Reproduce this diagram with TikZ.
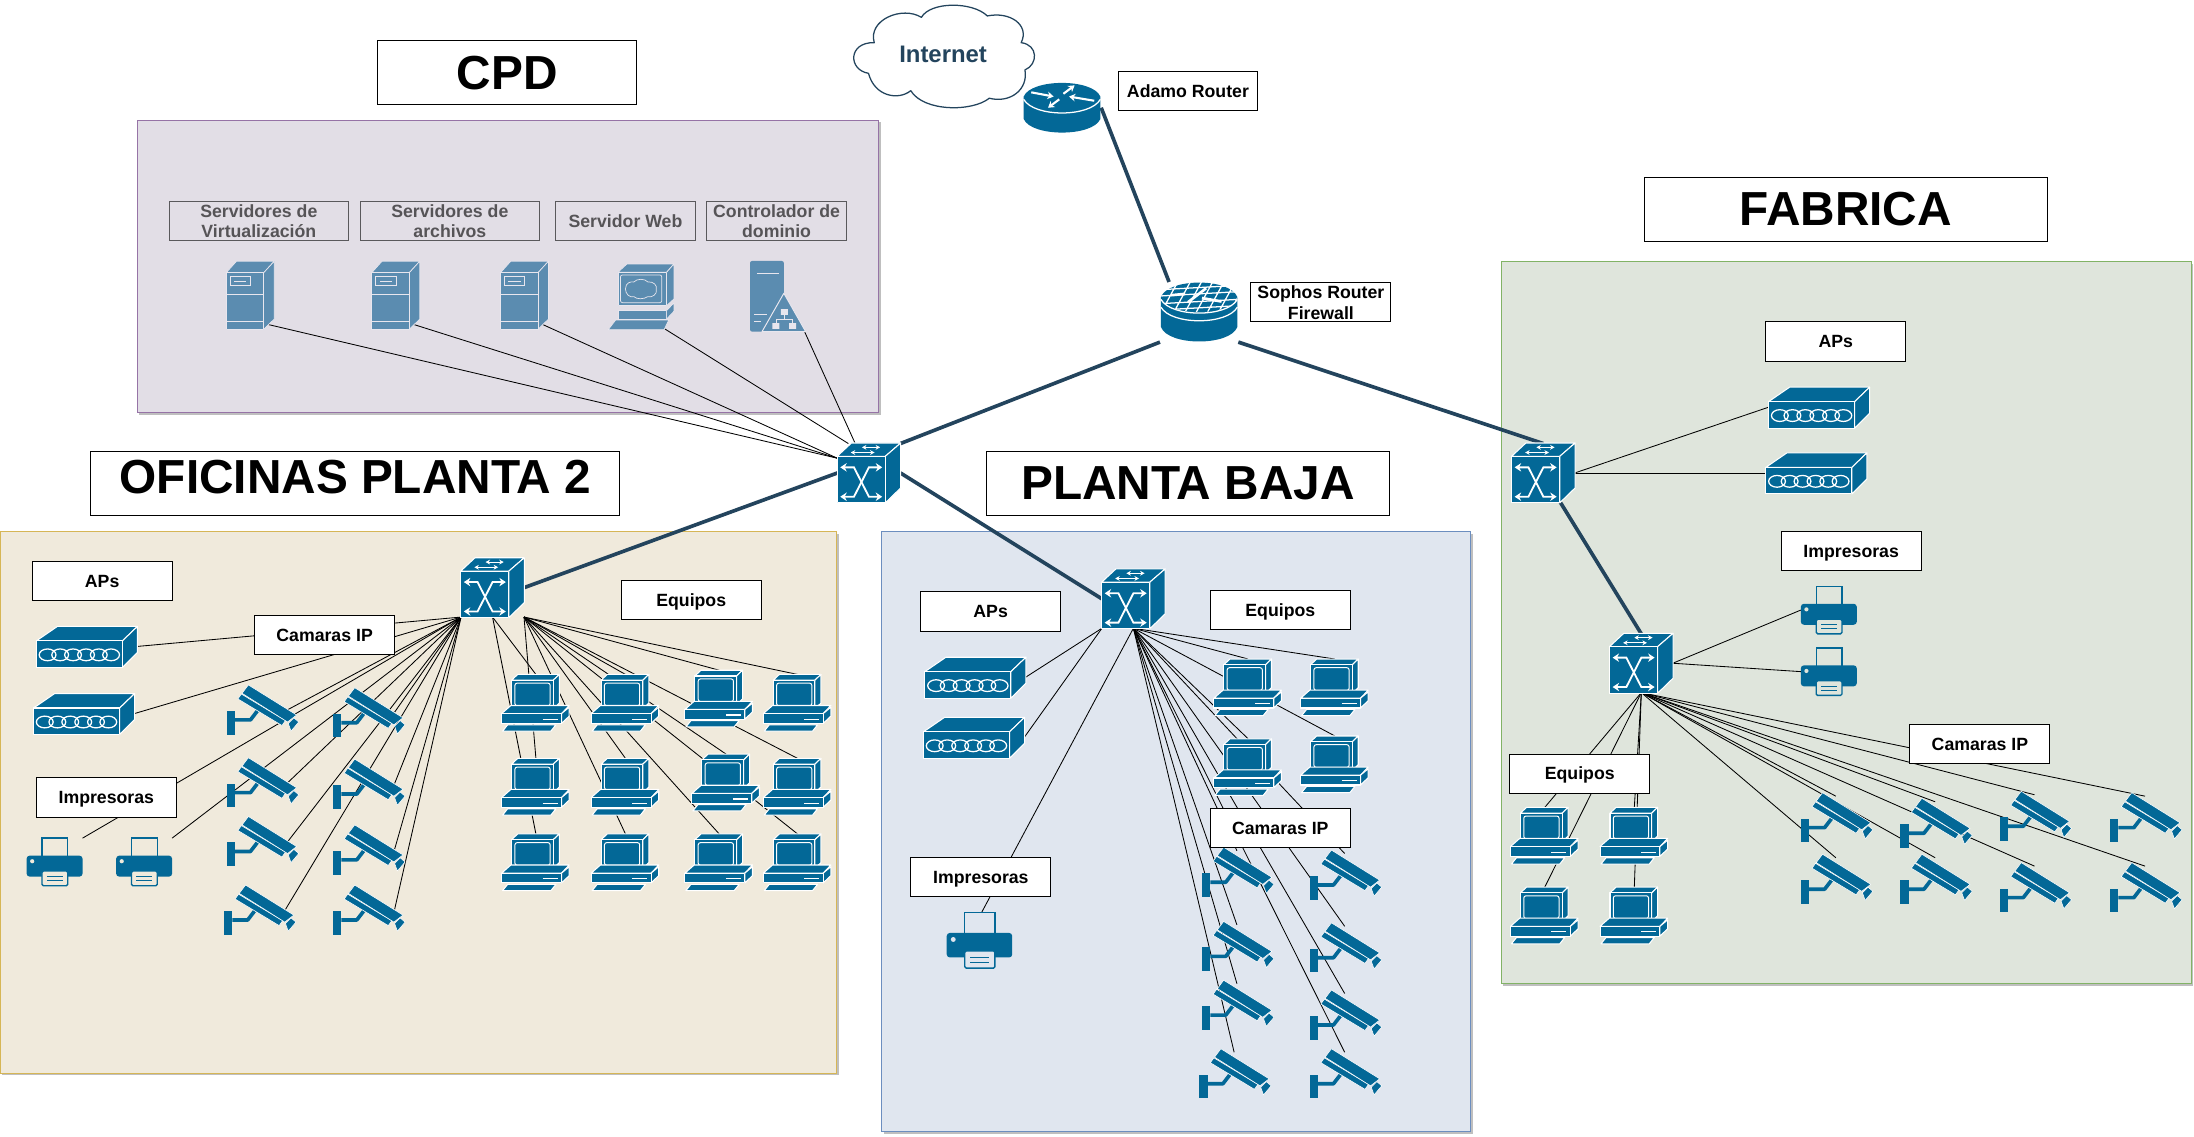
\documentclass[tikz,border=0pt]{standalone}
\usepackage{fontspec}
\setmainfont{Liberation Sans}
\usetikzlibrary{arrows.meta}
\definecolor{iconblue}{HTML}{036897}
\definecolor{iconfade}{HTML}{5B8CB0}
\definecolor{fadeline}{HTML}{E8E6EE}
\definecolor{trunk}{HTML}{23445D}
\definecolor{ofbg}{HTML}{F0EADC}
\definecolor{bajabg}{HTML}{E0E6EF}
\definecolor{fabbg}{HTML}{DFE5DC}
\definecolor{cpdbg}{HTML}{E2DEE6}
\definecolor{ofline}{HTML}{D6B656}
\definecolor{bajaline}{HTML}{6C8EBF}
\definecolor{fabline}{HTML}{82B366}
\definecolor{cpdline}{HTML}{9673A6}
\def\uu{0.035cm}
\def\pbg{ofbg}
\tikzset{
  iconf/.style={fill=iconblue,draw=white,line width=0.75pt,line join=round},
  camf/.style={fill=iconblue,draw=white,line width=0.4pt,line join=round},
  fadef/.style={fill=iconfade,draw=fadeline,line width=0.5pt,line join=round},
  wa/.style={draw=white,line width=0.8pt,-{Stealth[length=3.2pt,width=3.4pt]}},
  wb/.style={draw=white,line width=1.3pt,line join=miter,{Stealth[length=4.6pt,width=6pt]}-{Stealth[length=4.6pt,width=6pt]}},
  wr/.style={draw=white,line width=1.5pt,-{Stealth[length=4.4pt,width=5.4pt]}},
  link/.style={draw=black,line width=0.6pt},
  trunkline/.style={draw=trunk,line width=2.6pt},
  spotcam/.style={inner sep=0pt,outer sep=0pt,minimum width=38*\uu,minimum height=30*\uu},
  spotpc/.style={inner sep=0pt,outer sep=0pt,minimum width=48*\uu,minimum height=42*\uu},
  spotap/.style={inner sep=0pt,outer sep=0pt,minimum width=72*\uu,minimum height=30*\uu},
  spotsw/.style={inner sep=0pt,outer sep=0pt,minimum width=45*\uu,minimum height=42*\uu},
  spotpr/.style={inner sep=0pt,outer sep=0pt,minimum width=40*\uu,minimum height=34*\uu},
  spotsrv/.style={inner sep=0pt,outer sep=0pt,minimum width=26*\uu,minimum height=42*\uu},
  spotweb/.style={inner sep=0pt,outer sep=0pt,minimum width=32*\uu,minimum height=46*\uu},
  spotctl/.style={inner sep=0pt,outer sep=0pt,minimum width=40*\uu,minimum height=50*\uu},
  spotrt/.style={inner sep=0pt,outer sep=0pt,minimum width=56*\uu,minimum height=43*\uu},
  tagbase/.style={draw=black,fill=white,line width=0.7pt,inner sep=0pt,align=center,
    minimum width=100*\uu,minimum height=28*\uu,
    font=\bfseries\fontsize{12.6}{15}\selectfont},
  tag/.style={tagbase,execute at begin node={\rule[-0.18em]{0pt}{1.08em}}},
  fadetag/.style={draw=black!60!cpdbg,line width=0.6pt,inner sep=0pt,align=center,text=black!62!cpdbg,
    minimum height=28*\uu,font=\bfseries\fontsize{12.6}{14.5}\selectfont},
  title/.style={draw=black,fill=white,line width=0.7pt,inner sep=0pt,
    minimum height=45.5*\uu,font=\bfseries\fontsize{34}{38}\selectfont},
  region/.style={inner sep=0pt,line width=0.7pt},
  shade box/.style={fill=black!25,inner sep=0pt},
  % ---------------- icons
  icam/.pic={
    \path[fill=iconblue,line join=round] (-25,1) rectangle (-19,18);
    \draw[iconblue,line width=2.6pt,line join=round] (-19,7.5) -- (-8,7.5) -- (-3,1);
    \path[camf] (-17,-7.5) -- (-14.5,-11) -- (17,8) -- (14.5,11.5) -- cycle;
    \path[camf] (-14,-11.5) -- (-9.5,-17.5) -- (25,4) -- (18.5,9) -- cycle;
    \path[camf] (19,10) -- (23,6) -- (26.5,9) -- (21,15.5) -- cycle;
  },
  ipc/.pic={
    \path[iconf] (-17.4,-16.9) -- (-13,-21) -- (16.7,-21) -- (12.4,-16.9) -- cycle;
    \path[iconf] (12.4,-16.9) -- (16.7,-21) -- (16.7,-0.5) -- (12.4,3.6) -- cycle;
    \path[iconf] (-17.4,-16.9) rectangle (12.4,3.6);
    \draw[white,line width=0.7pt,rounded corners=1.6pt] (-15,-14.8) rectangle (10.2,1.4);
    \path[iconf] (-24.5,7) -- (-17.9,1.2) -- (23.8,1.2) -- (18.3,7) -- cycle;
    \path[iconf] (18.3,7) -- (23.8,2.4) -- (23.8,8.8) -- (18.3,14) -- cycle;
    \path[iconf] (-24.5,7) rectangle (18.3,14);
    \draw[white,line width=0.8pt] (4.8,11) -- (15.5,11);
    \path[iconf] (-23.8,19.5) -- (-20.2,15) -- (14.3,15) -- (10.7,19.5) -- cycle;
  },
  iap/.pic={
    \path[iconf] (-36,-4) -- (-21,-14.3) -- (36.2,-14.3) -- (25.5,-4) -- cycle;
    \path[iconf] (25.5,-4) -- (36.2,-14.3) -- (36.2,4.3) -- (25.5,15) -- cycle;
    \path[iconf] (-36,-4) rectangle (25.5,15);
    \foreach \cx in {-28,-19,-9.8,-0.5,8.6,17.4}
      \draw[white,line width=0.9pt] (\cx,6) ellipse (6 and 4.2);
  },
  iprn/.pic={
    \path[draw=iconblue,line width=1pt,fill=\pbg] (-9,-17) rectangle (9.4,-3);
    \path[fill=iconblue,rounded corners=2.2pt] (-20,-4.5) rectangle (20,10.5);
    \fill[\pbg] (-16,-0.5) circle (1.5);
    \path[draw=iconblue,line width=1pt,fill=\pbg,rounded corners=1pt] (-9,6.5) rectangle (9.4,17);
    \draw[iconblue,line width=0.7pt] (-5.5,10.3) -- (5.8,10.3) (-5.5,13.3) -- (5.8,13.3);
  },
  isw/.pic={
    \path[iconf] (-22.7,-11.9) -- (-12.5,-21.4) -- (22.7,-21.4) -- (11.7,-11.9) -- cycle;
    \path[iconf] (11.7,-11.9) -- (22.7,-21.4) -- (22.7,10.7) -- (11.7,21.4) -- cycle;
    \path[iconf] (-22.7,-11.9) rectangle (11.7,21.4);
    \draw[wa] (-1,-18.3) -- (8,-18.3);
    \draw[wa] (3,-18.3) -- (-5,-18.3);
    \draw[wa] (-5,-14.6) -- (4,-14.6);
    \draw[wa] (-3,-14.6) -- (-13,-14.6);
    \draw[wb] (-20.5,-4) -- (-10.7,-4) -- (0,17) -- (9.5,17);
    \draw[wb] (9.5,-4) -- (0,-4) -- (-10.7,17) -- (-20.5,17);
  },
  irt/.pic={
    \path[fill=iconblue] (-27.4,-8) -- (-27.4,8) .. controls (-22,21) and (22,21) .. (27.4,8) -- (27.4,-8)
       .. controls (22,-21) and (-22,-21) .. (-27.4,-8) -- cycle;
    \draw[white,line width=0.9pt] (-27.4,-6) .. controls (-20,7) and (20,7) .. (27.4,-6);
    \draw[wr] (-22,-11) -- (-6,-8);
    \draw[wr] (23,-5) -- (5,-8);
    \draw[wr] (1,-10) -- (9,-16);
    \draw[wr] (-2,-6) -- (-10,0);
  },
  ifw/.pic={
    \path[fill=iconblue] (-27.3,-10.7) -- (-27.3,10.7) .. controls (-22,24.5) and (22,24.5) .. (27.3,10.7) -- (27.3,-10.7)
       .. controls (22,-24.5) and (-22,-24.5) .. (-27.3,-10.7) -- cycle;
    \begin{scope}
      \clip (0,-10.7) ellipse (27.3 and 10.7);
      \draw[white,line width=0.9pt]
        (-27,-11.5) -- (27,-14.5) (-27,-6) -- (27,-9) (-27,-16) -- (27,-19) (-27,-1.5) -- (27,-4.5)
        (-14,-24) -- (-27,0) (-5,-24) -- (-18,0) (3,-24) -- (-10,0) (11,-24) -- (-2,0)
        (19,-24) -- (6,0) (27,-24) -- (14,0) (35,-24) -- (22,0);
      \draw[white,line width=1.9pt] (-8,-7) -- (5,-17) (2,-10) -- (16,-7.5) (-20,-12) -- (-10,-13);
    \end{scope}
    \draw[white,line width=0.9pt] (-27.3,-9) .. controls (-20,4) and (20,4) .. (27.3,-9);
    \draw[white,line width=0.9pt] (-27.3,-3.5) .. controls (-20,9.5) and (20,9.5) .. (27.3,-3.5);
  },
  isrv/.pic={
    \path[fadef] (-17.4,-16) -- (-10,-24.3) -- (17,-24.3) -- (9.4,-16) -- cycle;
    \path[fadef] (9.4,-16) -- (17,-24.3) -- (17,17) -- (9.4,24.5) -- cycle;
    \path[fadef] (-17.4,-16) rectangle (9.4,24.5);
    \draw[fadeline,line width=0.6pt] (-17.4,-0.7) -- (9.4,-0.7) (-17.4,18.6) -- (9.4,18.6);
    \draw[fadeline,line width=0.6pt] (-14.6,-13.1) rectangle (0,-6.7);
    \draw[fadeline,line width=0.6pt] (-11.6,-9.9) -- (-3,-9.9);
  },
  iweb/.pic={
    \path[fadef] (-17.4,-17.4) -- (-11,-23.3) -- (22.6,-23.3) -- (17.4,-17.4) -- cycle;
    \path[fadef] (17.4,-17.4) -- (22.6,-23.3) -- (22.6,1.7) -- (17.4,6.4) -- cycle;
    \path[fadef] (-17.4,-17.4) rectangle (17.4,6.4);
    \draw[fadeline,line width=0.5pt,rounded corners=1.5pt] (-15.6,-15.5) rectangle (14,4.3);
    \draw[fadeline,line width=0.5pt] (-12,-5.5) .. controls (-12,-10) and (-8,-11) .. (-6,-10.5)
      .. controls (-4,-13) and (2,-13) .. (4,-10.5) .. controls (8,-11) and (11,-8) .. (10,-5)
      .. controls (11,-2) and (7,1) .. (4,0) .. controls (1,2) and (-4,2) .. (-6,0)
      .. controls (-9,1) and (-12,-2) .. (-12,-5.5) -- cycle;
    \path[fadef] (-17.4,10) rectangle (17.4,16);
    \path[fadef] (17.4,10) -- (22.6,4.5) -- (22.6,10.5) -- (17.4,16) -- cycle;
    \path[fadef] (-24.3,23.6) -- (-19,16.7) -- (19,16.7) -- (15.6,23.6) -- cycle;
  },
  ictl/.pic={
    \path[fill=iconfade,rounded corners=1.5pt] (-19,-25.5) rectangle (5.2,25);
    \draw[fadeline,line width=0.8pt] (-14,-16.7) -- (1.7,-16.7);
    \draw[fadeline,line width=0.7pt] (-16,13) -- (-7,13) (-16,18) -- (-11,18);
    \path[fill=iconfade,draw=fadeline,line width=0.7pt,line join=round] (5.2,-2.4) -- (20.8,25) -- (-10.4,25) -- cycle;
    \fill[fadeline] (3,9) rectangle (8,13) (-3,19) rectangle (2,23) (9,19) rectangle (14,23);
    \draw[fadeline,line width=0.5pt] (5.5,13) -- (5.5,16) (-0.5,19) -- (-0.5,16) -- (11.5,16) -- (11.5,19);
  },
}
\begin{document}
\begin{tikzpicture}[x=\uu,y=-\uu]
\useasboundingbox (0,0) rectangle (1568,811.9);
\fill[white] (0,0) rectangle (1568,811.9);

% ---------- zones
\node[shade box,minimum width=530*\uu,minimum height=209*\uu] at (364.5,192) {};
\node[shade box,minimum width=493*\uu,minimum height=516*\uu] at (1321,446.5) {};
\node[shade box,minimum width=598*\uu,minimum height=387*\uu] at (300.5,575) {};
\node[shade box,minimum width=421*\uu,minimum height=429*\uu] at (842,596) {};
\node[region,draw=cpdline,fill=cpdbg,minimum width=530*\uu,minimum height=209*\uu] (zcpd) at (363,190.5) {};
\node[region,draw=fabline,fill=fabbg,minimum width=493*\uu,minimum height=516*\uu] (zfab) at (1319.5,445) {};
\node[region,draw=ofline,fill=ofbg,minimum width=598*\uu,minimum height=387*\uu] (zof) at (299,573.5) {};
\node[region,draw=bajaline,fill=bajabg,minimum width=421*\uu,minimum height=429*\uu] (zbaja) at (840.5,594.5) {};

% ---------- anchors of the devices
\node[spotrt] (r0) at (759,77) {};
\node[spotrt] (fw) at (857,223) {};
\foreach \n/\x/\y in {sw0/621/338,sw1/352/420,sw2/810/428,sw3/1103/338,sw4/1173/474}
  \node[spotsw] (\n) at (\x,\y) {};
\foreach \n/\x/\y in {srv1/179/211,srv2/283/211,srv3/375/211}
  \node[spotsrv] (\n) at (\x,\y) {};
\node[spotweb] (web) at (459,212) {};
\node[spotctl] (ctrl) at (555,212) {};
\foreach \n/\x/\y in {ap1/62/462,ap2/60/510,bap1/697/484,bap2/696/527,fap1/1300/291,fap2/1298/338}
  \node[spotap] (\n) at (\x,\y) {};
\foreach \n/\x/\y in {pr1/39/616,pr2/103/616,fpr1/1307/436,fpr2/1307/480}
  \node[spotpr] (\n) at (\x,\y) {};
\node[spotpr] (bpr) at (700,672) {};
\foreach \n/\x/\y in {c1/187/507,c2/263/509,c3/187/559,c4/263/560,c5/187/601,c6/263/607,c7/185/650,c8/263/650,
  bc1/884/623,bc2/961/625,bc3/884/676,bc4/961/677,bc5/884/718,bc6/961/725,bc7/882/767,bc8/961/767,
  fc1/1312/584,fc2/1383/588,fc3/1454/583,fc4/1533/584,fc5/1312/628,fc6/1383/628,fc7/1454/634,fc8/1533/634}
  \node[spotcam] (\n) at (\x,\y) {};
\foreach \n/\x/\y in {p1/383/503,p2/447/503,p3/514/500,p4/570/503,p5/383/563,p6/447/563,p7/519/560,p8/570/563,
  p9/383/617,p10/447/617,p11/514/617,p12/570/617,
  bp1/892/492,bp2/954/492,bp3/892/549,bp4/954/547,
  fp1/1104/598,fp2/1168/598,fp3/1104/655,fp4/1168/655}
  \node[spotpc] (\n) at (\x,\y) {};

% ---------- connectors
\foreach \n in {srv1,srv2,srv3} \draw[link] (\n.south east) -- (sw0.155);
\draw[link] (web.south east) -- (sw0.125);
\draw[link] (ctrl.south east) -- (sw0.115);
\draw[link] (ap1.east) -- (sw1.south west);
\draw[link] (ap2.east) -- (sw1.south west);
\draw[link] (pr1.north east) -- (sw1.south west);
\draw[link] (pr2.north east) -- (sw1.south west);
\foreach \n in {c1,c2,c3,c4,c5,c6,c7,c8} \draw[link] (\n.east) -- (sw1.south west);
\foreach \n in {p1,p9} \draw[link] (\n.north) -- (sw1.south);
\foreach \n in {p5,p2,p6,p10,p3,p4,p7,p8,p11,p12} \draw[link] (\n.north) -- (sw1.south east);
\draw[link] (bap1.east) -- (sw2.south west);
\draw[link] (bap2.east) -- (sw2.south west);
\draw[link] (bpr.north) -- (sw2.south);
\foreach \n in {bp1,bp2,bp3,bp4,bc1,bc2,bc3,bc4,bc5,bc6,bc7,bc8} \draw[link] (\n.north) -- (sw2.south);
\draw[link] (sw3.east) -- (fap1.west);
\draw[link] (sw3.east) -- (fap2.west);
\draw[link] (sw4.east) -- (fpr1.west);
\draw[link] (sw4.east) -- (fpr2.west);
\foreach \n in {fp1,fp2,fp3,fp4,fc1,fc2,fc3,fc4,fc5,fc6,fc7,fc8} \draw[link] (\n.north) -- (sw4.south);
\draw[trunkline] (r0.east) -- (fw.135);
\draw[trunkline] (fw.south west) -- (sw0.north east);
\draw[trunkline] (fw.south east) -- (sw3.north);
\draw[trunkline] (sw0.west) -- (sw1.east);
\draw[trunkline] (sw0.east) -- (sw2.west);
\draw[trunkline] (sw3.-60) -- (sw4.north);

% ---------- cloud
\path[draw=trunk,fill=white,line width=0.9pt,line join=round]
  (624.8,30.5) .. controls (620,14) and (645,4) .. (658.5,12.4)
  .. controls (665,1) and (695,1) .. (705.6,11.4)
  .. controls (722,8) and (736,18) .. (729.8,30.5)
  .. controls (742,32) and (742,46) .. (732.5,50)
  .. controls (735,64) and (722,74) .. (707,70.2)
  .. controls (695,80) and (660,80) .. (650.9,64.8)
  .. controls (642,72) and (625,69) .. (620.7,52.4)
  .. controls (606,50) and (606,30) .. (624.8,30.5) -- cycle;
\node[inner sep=0pt,text=trunk,font=\bfseries\fontsize{17}{20}\selectfont] (inet) at (674,39) {Internet};

% ---------- icons
\pic at (r0.center) {irt};
\pic at (fw.center) {ifw};
\foreach \n in {sw0,sw1,sw2,sw3,sw4} \pic at (\n.center) {isw};
\foreach \n in {srv1,srv2,srv3} \pic at (\n.center) {isrv};
\pic at (web.center) {iweb};
\pic at (ctrl.center) {ictl};
\foreach \n in {ap1,ap2,bap1,bap2,fap1,fap2} \pic at (\n.center) {iap};
\foreach \n in {pr1,pr2} \pic at (\n.center) {iprn};
\def\pbg{bajabg}
\pic[scale=1.17] at (bpr.center) {iprn};
\def\pbg{fabbg}
\foreach \n in {fpr1,fpr2} \pic at (\n.center) {iprn};
\foreach \n in {c1,c2,c3,c4,c5,c6,c7,c8,bc1,bc2,bc3,bc4,bc5,bc6,bc7,bc8,fc1,fc2,fc3,fc4,fc5,fc6,fc7,fc8}
  \pic at (\n.center) {icam};
\foreach \n in {p1,p2,p3,p4,p5,p6,p7,p8,p9,p10,p11,p12,bp1,bp2,bp3,bp4,fp1,fp2,fp3,fp4}
  \pic at (\n.center) {ipc};

% ---------- titles
\node[title,minimum width=185*\uu] (tcpd) at (362.5,52) {CPD};
\node[title,minimum width=288*\uu] (tfab) at (1319,149.5) {FABRICA};
\node[title,minimum width=378*\uu] (tof) at (254,345.5) {\raisebox{0.17cm}[0.716em][0pt]{OFICINAS PLANTA 2}};
\node[title,minimum width=288*\uu] (tbaja) at (849,345.5) {PLANTA BAJA};

% ---------- labels
\node[tag] (ladamo) at (849,65) {Adamo Router};
\node[tagbase] (lsophos) at (944,216) {Sophos Router\\Firewall};
\node[fadetag,minimum width=128*\uu] (lvirt) at (185,158) {Servidores de\\Virtualización};
\node[fadetag,minimum width=128*\uu] (larch) at (321.5,158) {Servidores de\\archivos};
\node[fadetag,minimum width=100*\uu] (lweb) at (447,158) {Servidor Web};
\node[fadetag,minimum width=100*\uu] (lctl) at (555,158) {Controlador de\\dominio};
\node[tag] (l1) at (73,415) {APs};
\node[tag] (l2) at (232,454) {Camaras IP};
\node[tag] (l3) at (494,429) {Equipos};
\node[tag] (l4) at (76,570) {Impresoras};
\node[tag] (l5) at (708,437) {APs};
\node[tag] (l6) at (915,436) {Equipos};
\node[tag] (l7) at (701,627) {Impresoras};
\node[tag] (l8) at (915,592) {Camaras IP};
\node[tag] (l9) at (1312,244) {APs};
\node[tag] (l10) at (1323,394) {Impresoras};
\node[tag] (l11) at (1129,553) {Equipos};
\node[tag] (l12) at (1415,532) {Camaras IP};
\end{tikzpicture}
\end{document}
